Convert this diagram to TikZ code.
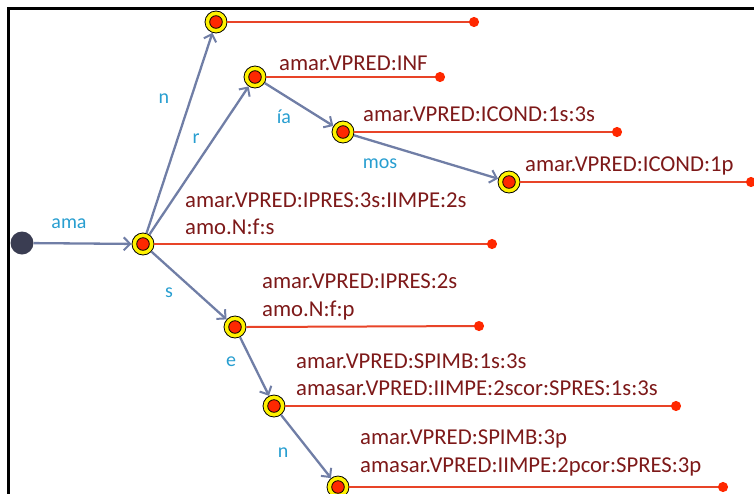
\documentclass[tikz,border=0pt]{standalone}
\usepackage{fontspec}
\setmainfont{Carlito}
\usetikzlibrary{arrows.meta}
\definecolor{lblue}{RGB}{40,158,208}
\definecolor{outred}{RGB}{125,25,25}
\definecolor{edgec}{RGB}{112,126,166}
\definecolor{linered}{RGB}{232,68,40}
\definecolor{dotred}{RGB}{255,40,0}
\definecolor{startc}{RGB}{58,61,82}
\begin{document}
\begin{tikzpicture}[x=1pt,y=-1pt,
  st/.style={circle,draw=black,line width=0.8pt,fill=yellow,minimum size=22pt,inner sep=0pt,
    path picture={\draw[black,line width=0.8pt,fill=dotred] (path picture bounding box.center) circle (6.3pt);}},
  startst/.style={circle,fill=startc,minimum size=23pt,inner sep=0pt},
  tr/.style={draw=edgec,line width=2.3pt,-{Straight Barb[length=6.5pt,width=13pt,line width=2pt]}},
  outl/.style={draw=linered,line width=2pt,-{Circle[length=10pt,width=10pt,fill=dotred,color=dotred]}},
  lab/.style={text=lblue,font=\fontsize{20}{24}\selectfont,anchor=base,inner sep=0pt},
  outt/.style={text=outred,font=\fontsize{22.7}{27.5}\selectfont,anchor=base west,inner sep=0pt,align=left}]
\useasboundingbox (0,0) rectangle (754,493);
\draw[line width=3pt,line cap=rect] (8.5,493) -- (8.5,8.5) -- (754,8.5);
% states
\node[startst] (s0) at (22,243) {};
\node[st] (q1) at (143,244) {};
\node[st] (qn) at (216,22) {};
\node[st] (qr) at (255,77) {};
\node[st] (qia) at (343,132) {};
\node[st] (qmos) at (509,182) {};
\node[st] (qs) at (235,327) {};
\node[st] (qe) at (274,406) {};
\node[st] (qen) at (338,487) {};
% output line ends
\coordinate (en) at (479,22);
\coordinate (er) at (445,77);
\coordinate (eia) at (622,132);
\coordinate (emos) at (756,182);
\coordinate (e1) at (497,244);
\coordinate (es) at (484,326);
\coordinate (ee) at (681,406);
\coordinate (een) at (728,487);
\draw[outl] (qn.east) -- (en);
\draw[outl] (qr.east) -- (er);
\draw[outl] (qia.east) -- (eia);
\draw[outl] (qmos.east) -- (emos);
\draw[outl] (q1.east) -- (e1);
\draw[outl] (qs.east) -- (es);
\draw[outl] (qe.east) -- (ee);
\draw[outl] (qen.east) -- (een);
% transitions
\draw[tr] (s0) -- (q1);
\draw[tr] (q1) -- (qn);
\draw[tr] (q1) -- (qr);
\draw[tr] (qr) -- (qia);
\draw[tr] (qia) -- (qmos);
\draw[tr] (q1) -- (qs);
\draw[tr] (qs) -- (qe);
\draw[tr] (qe) -- (qen);
% transition labels
\node[lab] (lama) at (69,228) {ama};
\node[lab] (ln) at (164,103) {n};
\node[lab] (lr) at (196,143) {r};
\node[lab] (lia) at (284,123) {ía};
\node[lab] (lmos) at (380,168) {mos};
\node[lab] (ls) at (169,297) {s};
\node[lab] (le) at (231,366) {e};
\node[lab] (len) at (283,457) {n};
% outputs
\node[outt] (o1) at (279,70) {amar.VPRED:INF};
\node[outt] (o2) at (363,121) {amar.VPRED:ICOND:1s:3s};
\node[outt] (o3) at (525,171) {amar.VPRED:ICOND:1p};
\node[outt] (o4) at (185,207) {amar.VPRED:IPRES:3s:IIMPE:2s};
\node[outt] (o4b) at (185,234) {amo.N:f:s};
\node[outt] (o5) at (262,288) {amar.VPRED:IPRES:2s};
\node[outt] (o5b) at (262,316) {amo.N:f:p};
\node[outt] (o6) at (296,368) {amar.VPRED:SPIMB:1s:3s};
\node[outt] (o6b) at (296,395) {amasar.VPRED:IIMPE:2scor:SPRES:1s:3s};
\node[outt] (o7) at (360,444) {amar.VPRED:SPIMB:3p};
\node[outt] (o7b) at (360,472) {amasar.VPRED:IIMPE:2pcor:SPRES:3p};
\end{tikzpicture}
\end{document}
